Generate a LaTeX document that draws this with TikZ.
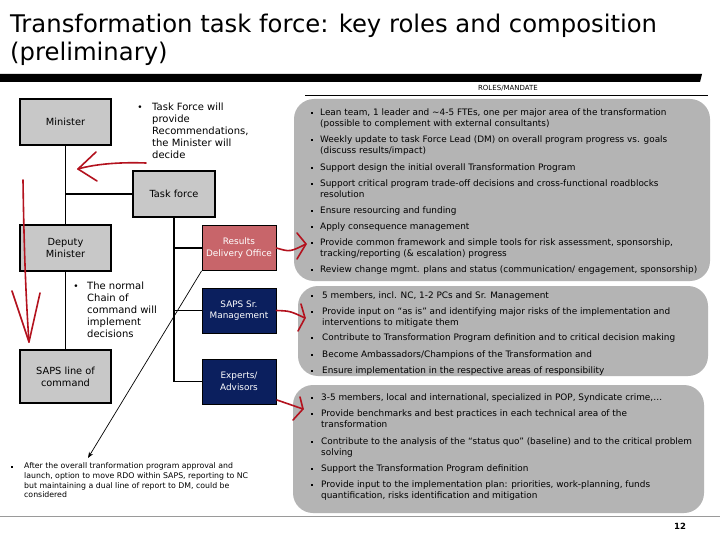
\documentclass[tikz,border=0pt]{standalone}
\usepackage{fontspec}
\setmainfont{DejaVu Sans}
\usetikzlibrary{arrows.meta}
\definecolor{boxgray}{HTML}{C8C8C8}
\definecolor{rdocol}{HTML}{C8656A}
\definecolor{navycol}{HTML}{0B1F5E}
\definecolor{panelcol}{HTML}{B4B4B4}
\definecolor{pencol}{HTML}{B3121E}
\definecolor{rulecol}{HTML}{9A9A9A}
\tikzset{
  orgbox/.style={draw=black, line width=1.6pt, fill=boxgray, align=center,
    font=\fontsize{9.8}{12}\selectfont, inner sep=0pt},
  colbox/.style={draw=black, line width=0.8pt, align=center, text=white,
    minimum width=74pt, minimum height=45pt,
    font=\fontsize{8.9}{11.5}\selectfont, inner sep=0pt},
  conn/.style={line width=1.6pt},
  ptxt/.style={anchor=west, inner sep=0pt, font=\fontsize{8.9}{10}\selectfont,
    text height=6.5pt, text depth=1.7pt},
  pbul/.style={inner sep=0pt, fill=black, minimum size=2.2pt},
  panelbox/.style={fill=panelcol, rounded corners=20pt},
  pen/.style={draw=pencol, line width=1.6pt, line cap=round, line join=round},
  notetxt/.style={anchor=north west, align=left, inner sep=0pt,
    font=\fontsize{10}{12}\selectfont},
}
\newcommand\pitem[4]{%
  \node[pbul] (#1b) at (312,#3) {};
  \node[ptxt] (#1) at (#2,#3) {#4};}
\newcommand\pcont[4]{\node[ptxt] (#1) at (#2,#3) {#4};}
\begin{document}
\begin{tikzpicture}[x=1pt,y=-1pt]
\useasboundingbox (0,0) rectangle (720,540);
\fill[white] (0,0) rectangle (720,540);

% title
\node[anchor=base west, inner sep=0pt, font=\fontsize{24.3}{28}\selectfont] (title1) at (10,33) {Transformation task force: key roles and composition};
\node[anchor=base west, inner sep=0pt, font=\fontsize{24.3}{28}\selectfont] (title2) at (10,61) {(preliminary)};
\fill[black] (0,74) -- (702,74) -- (700,82) -- (0,82) -- cycle;

% roles header
\node[inner sep=0pt, font=\fontsize{7}{8}\selectfont] (roles) at (508,88) {ROLES/MANDATE};
\draw[line width=0.7pt] (305,95.5) -- (708,95.5);

% panels
\fill[panelbox] (294,99) rectangle (710,281);
\fill[panelbox] (298,286) rectangle (708,376);
\fill[panelbox] (293,385) rectangle (704,513);

% bottom rule and page number
\draw[rulecol, line width=1.3pt] (0,516.5) -- (720,516.5);
\node[inner sep=0pt, font=\bfseries\fontsize{8.5}{10}\selectfont] (pagenum) at (680,526) {12};

% org boxes
\node[orgbox, minimum width=91pt, minimum height=46pt] (min) at (65.5,122) {Minister};
\node[orgbox, minimum width=82pt, minimum height=46pt] (tf) at (174,194) {Task force};
\node[orgbox, minimum width=91pt, minimum height=46pt] (dep) at (65.5,248) {Deputy\\Minister};
\node[orgbox, minimum width=91pt, minimum height=53pt] (saps) at (65.5,376.5) {SAPS line of\\command};
\node[colbox, fill=rdocol] (rdo) at (239,248) {Results\\Delivery Office};
\node[colbox, fill=navycol] (sr) at (239,310.5) {SAPS Sr.\\Management};
\node[colbox, fill=navycol] (exp) at (239,381.5) {Experts/\\Advisors};

% connectors
\draw[conn] (min.south) -- (dep.north);
\draw[conn] (dep.south) -- (saps.north);
\draw[conn] (tf.west) -- (tf.west -| min.south);
\draw[conn] (tf.south) |- (exp.west);
\draw[conn] (rdo.west) -- (rdo.west -| tf.south);
\draw[conn] (sr.west) -- (sr.west -| tf.south);
\coordinate (noteend) at (88,458);
\draw[line width=0.7pt, -{Stealth[length=6pt,width=4.5pt]}] (rdo.south west) -- (noteend);

% left notes
\node[inner sep=0pt, font=\fontsize{9}{10}\selectfont] (n1b) at (140,108) {•};
\node[notetxt] (n1) at (152,103) {Task Force will\\provide\\Recommendations,\\the Minister will\\decide};
\node[inner sep=0pt, font=\fontsize{9}{10}\selectfont] (n2b) at (76,287) {•};
\node[notetxt] (n2) at (87,282) {The normal\\Chain of\\command will\\implement\\decisions};
\node[pbul] (n3b) at (12,467) {};
\node[anchor=north west, align=left, inner sep=0pt, font=\fontsize{7.8}{9.6}\selectfont] (n3) at (24,462.8) {After the overall tranformation program approval and\\launch, option to move RDO within SAPS, reporting to NC\\but maintaining a dual line of report to DM, could be\\considered};

% panel 1
\pitem{p1a}{320}{113}{Lean team, 1 leader and \textasciitilde4-5 FTEs, one per major area of the transformation}
\pcont{p1a2}{320}{124}{(possible to complement with external consultants)}
\pitem{p1b}{320}{140}{Weekly update to task Force Lead (DM) on overall program progress vs. goals}
\pcont{p1b2}{320}{151}{(discuss results/impact)}
\pitem{p1c}{320}{168}{Support design the initial overall Transformation Program}
\pitem{p1d}{320}{184}{Support critical program trade-off decisions and cross-functional roadblocks}
\pcont{p1d2}{320}{195}{resolution}
\pitem{p1e}{320}{211}{Ensure resourcing and funding}
\pitem{p1f}{320}{227}{Apply consequence management}
\pitem{p1g}{320}{243}{Provide common framework and simple tools for risk assessment, sponsorship,}
\pcont{p1g2}{320}{254}{tracking/reporting (\& escalation) progress}
\pitem{p1h}{320}{270}{Review change mgmt. plans and status (communication/ engagement, sponsorship)}

% panel 2
\pitem{p2a}{322}{296}{5 members, incl. NC, 1-2 PCs and Sr. Management}
\pitem{p2b}{322}{312}{Provide input on “as is” and identifying major risks of the implementation and}
\pcont{p2b2}{322}{323}{interventions to mitigate them}
\pitem{p2c}{322}{338}{Contribute to Transformation Program definition and to critical decision making}
\pitem{p2d}{322}{355}{Become Ambassadors/Champions of the Transformation and}
\pitem{p2e}{322}{371}{Ensure implementation in the respective areas of responsibility}

% panel 3
\pitem{p3a}{321}{398}{3-5 members, local and international, specialized in POP, Syndicate crime,…}
\pitem{p3b}{321}{414}{Provide benchmarks and best practices in each technical area of the}
\pcont{p3b2}{321}{425}{transformation}
\pitem{p3c}{321}{442}{Contribute to the analysis of the “status quo” (baseline) and to the critical problem}
\pcont{p3c2}{321}{453}{solving}
\pitem{p3d}{321}{469}{Support the Transformation Program definition}
\pitem{p3e}{321}{485}{Provide input to the implementation plan: priorities, work-planning, funds}
\pcont{p3e2}{321}{496}{quantification, risks identification and mitigation}

% red hand-drawn marks
\draw[pen] (146,163) .. controls (120,162) and (95,164) .. (78,169);
\draw[pen] (96,152) -- (78,169) -- (97,181);
\draw[pen] (23,180) .. controls (24,250) and (26,300) .. (29,342);
\draw[pen] (12,291) -- (29,342) -- (40,293);
\draw[pen] (rdo.east) .. controls (290,252) .. (306,244);
\draw[pen] (297,233) -- (306,244) -- (297,259);
\draw[pen] (sr.east) .. controls (290,311) .. (305,318);
\draw[pen] (301,304) -- (305,318) -- (298,331);
\coordinate (expmark) at (277,400);
\draw[pen] (expmark) .. controls (290,404) .. (303,409);
\draw[pen] (300,397) -- (303,409) -- (293,420);
\end{tikzpicture}
\end{document}
